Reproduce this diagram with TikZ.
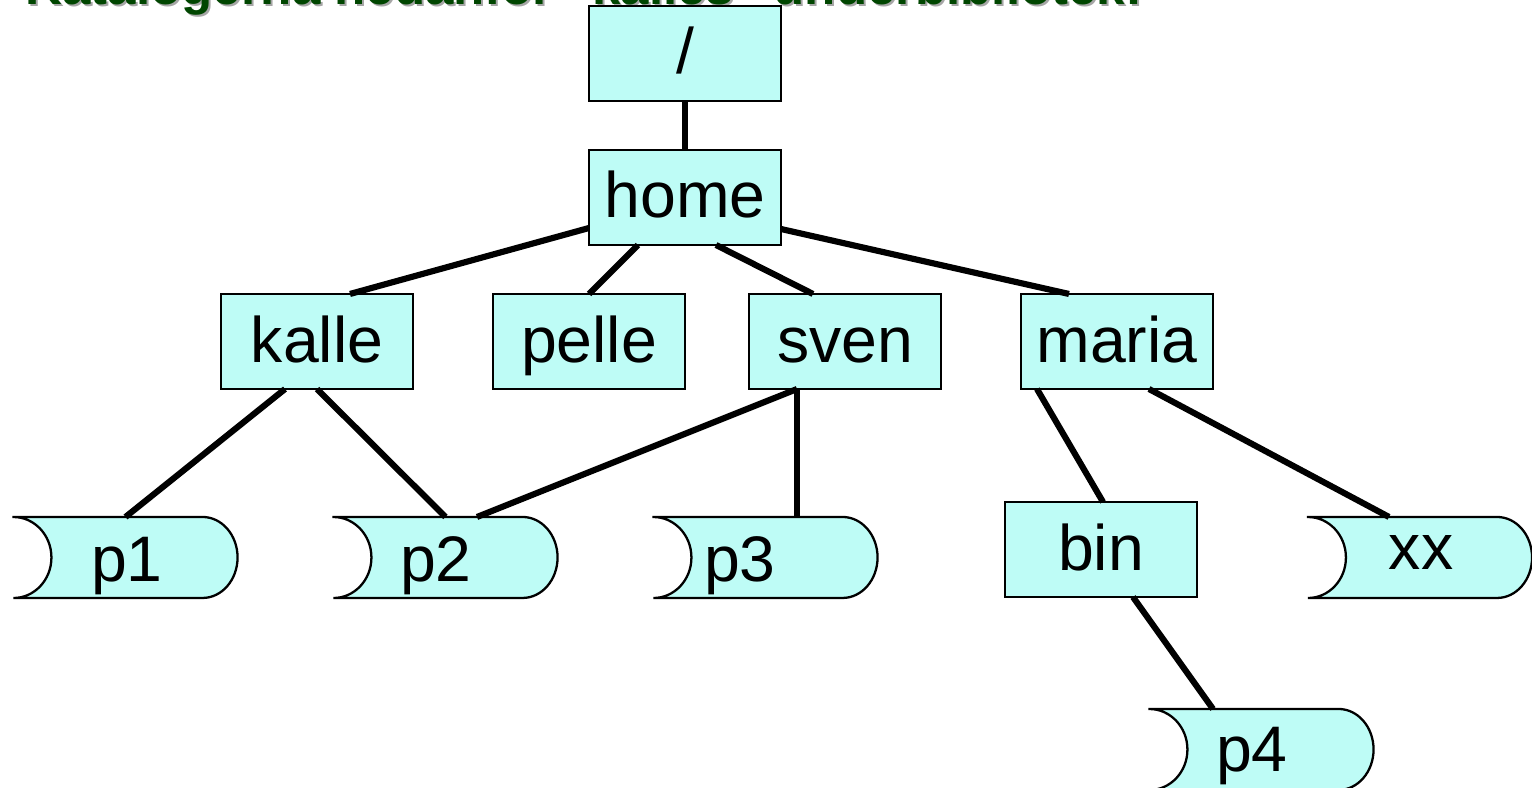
\documentclass[tikz,border=0pt]{standalone}
\usepackage{fontspec}
\setmainfont{Liberation Sans}
\usetikzlibrary{calc}
\definecolor{boxfill}{RGB}{190,252,246}
\definecolor{titlegreen}{RGB}{0,70,0}
\newcommand\drawfileshape[1]{%
  \path[fileshape] (#1.north west) -- ($(#1.north east)+(-35,0)$)
    arc[start angle=90,end angle=-90,x radius=35,y radius=40.5]
    -- (#1.south west)
    arc[start angle=-90,end angle=90,x radius=38,y radius=40.5] -- cycle;}
\begin{document}
\begin{tikzpicture}[x=0.01cm,y=0.01cm,
  dirbox/.style={draw=black, line width=0.65pt, fill=boxfill, minimum width=1.92cm,
    minimum height=0.95cm, inner sep=0pt, outer sep=0pt, text height=0.41cm,
    text depth=0cm, font=\fontsize{18.3}{20}\selectfont},
  filenode/.style={minimum width=2.24cm, minimum height=0.81cm, inner sep=0pt, outer sep=0pt},
  filetext/.style={anchor=base, inner sep=0pt, font=\fontsize{18.3}{20}\selectfont},
  fileshape/.style={draw=black, line width=0.65pt, fill=boxfill},
  link/.style={line width=1.75pt},
  titletext/.style={anchor=base west, inner sep=0pt, font=\bfseries\fontsize{14.5}{16}\selectfont}]
\useasboundingbox (0,0) rectangle (1532,788);
% title (mostly cut off at the top)
\node[titletext, text=black!35] (titleshadow) at (27,781) {Katalogerna nedanför ”kalles” underbibliotek:};
\node[titletext, text=titlegreen] (title) at (25,783) {Katalogerna nedanför ”kalles” underbibliotek:};
% directories
\node[dirbox] (root)  at (685,734.5) {/};
\node[dirbox] (home)  at (685,590.5) {home};
\node[dirbox] (kalle) at (317,446.5) {kalle};
\node[dirbox] (pelle) at (589,446.5) {pelle};
\node[dirbox] (sven)  at (845,446.5) {sven};
\node[dirbox] (maria) at (1117,446.5) {maria};
\node[dirbox] (bin)   at (1101,238.5) {bin};
% files
\node[filenode] (p1) at (125.5,230.5) {};
\node[filenode] (p2) at (445.5,230.5) {};
\node[filenode] (p3) at (765.5,230.5) {};
\node[filenode] (xx) at (1420,230.5) {};
\node[filenode] (p4) at (1261.5,38.5) {};
\drawfileshape{p1}
\drawfileshape{p2}
\drawfileshape{p3}
\drawfileshape{xx}
\drawfileshape{p4}
\node[filetext] (p1t) at (127,206) {p1};
\node[filetext] (p2t) at (436,206) {p2};
\node[filetext] (p3t) at (740,206) {p3};
\node[filetext] (xxt) at (1421,218) {xx};
\node[filetext] (p4t) at (1252,16) {p4};
% connectors
\draw[link] (root.south) -- (home.north);
\draw[link] ($(home.south west)+(0,17)$) -- ($(kalle.north)+(33,0)$);
\draw[link] ($(home.south)+(-47,0)$) -- (pelle.north);
\draw[link] ($(home.south)+(31,0)$) -- ($(sven.north)+(-32,0)$);
\draw[link] ($(home.south east)+(0,16)$) -- ($(maria.north)+(-48,0)$);
\draw[link] ($(kalle.south)+(-32,0)$) -- (p1.north);
\draw[link] (kalle.south) -- (p2.north);
\draw[link] ($(sven.south)+(-48,0)$) -- ($(p2.north)+(31.5,0)$);
\draw[link] ($(sven.south)+(-48,0)$) -- ($(p3.north)+(31.5,0)$);
\draw[link] ($(maria.south)+(-80,0)$) -- ($(bin.north)+(2,0)$);
\draw[link] ($(maria.south)+(32,0)$) -- ($(xx.north)+(-31,0)$);
\draw[link] ($(bin.south)+(32,0)$) -- ($(p4.north)+(-48.5,0)$);
\end{tikzpicture}
\end{document}
